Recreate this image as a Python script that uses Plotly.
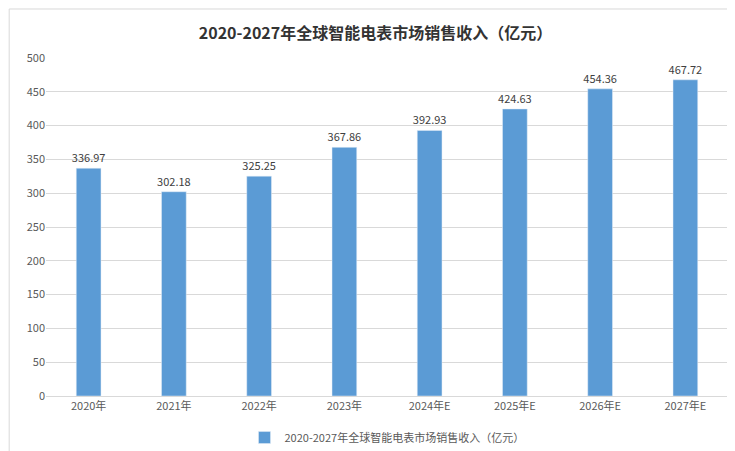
import plotly.graph_objects as go

years = ["2020年", "2021年", "2022年", "2023年", "2024年E", "2025年E", "2026年E", "2027年E"]
revenue = [336.97, 302.18, 325.25, 367.86, 392.93, 424.63, 454.36, 467.72]
series_name = "2020-2027年全球智能电表市场销售收入（亿元）"

font_family = "Noto Sans CJK SC, Microsoft YaHei, sans-serif"

fig = go.Figure()
fig.add_trace(go.Bar(
    x=years,
    y=revenue,
    name=series_name,
    marker_color="#5B9BD5",
    width=0.29,
    text=[f"{v:.2f}" for v in revenue],
    textposition="outside",
    constraintext="none",
    textfont=dict(size=11, color="#404040"),
    cliponaxis=False,
))

fig.update_layout(
    width=735,
    height=451,
    paper_bgcolor="white",
    plot_bgcolor="white",
    font=dict(family=font_family, size=11, color="#595959"),
    title=dict(text="<b>2020-2027年全球智能电表市场销售收入（亿元）</b>",
               x=0.5, y=0.955, xanchor="center",
               font=dict(size=16, color="#333333")),
    margin=dict(l=38, r=15, t=50, b=63, autoexpand=False),
    showlegend=True,
    legend=dict(orientation="h", x=0.5, xanchor="center", y=-0.08, yanchor="top",
                font=dict(size=11, color="#595959")),
    shapes=[dict(type="rect", xref="paper", yref="paper", x0=-0.054, x1=1.02,
                 y0=-0.185, y1=1.145, line=dict(color="#D9D9D9", width=1))],
)
fig.update_yaxes(range=[0, 500], dtick=50, gridcolor="#D9D9D9", zeroline=False,
                 showline=False, tickfont=dict(size=11))
fig.update_xaxes(showline=True, linecolor="#D9D9D9", tickfont=dict(size=11))

fig.write_html("out.html")
